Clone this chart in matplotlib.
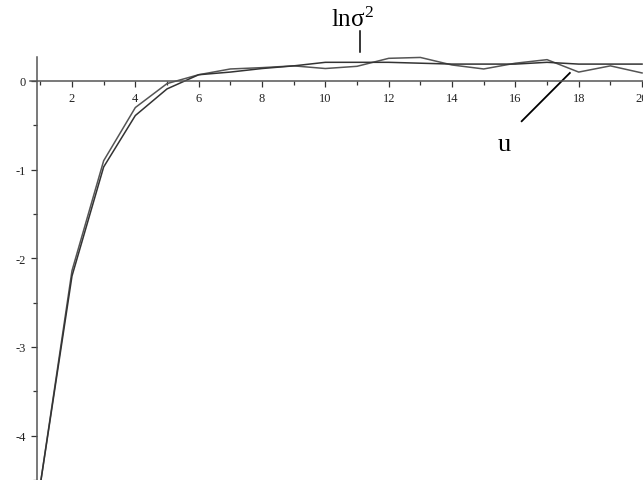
import numpy as np
import matplotlib
matplotlib.use('Agg')
from matplotlib import pyplot as plt

# data
t = [1, 2, 3, 4, 5, 6, 7, 8, 9, 10, 11, 12, 13, 14, 15, 16, 17, 18, 19, 20]
ln_sigma2 = [-4.55, -2.20, -0.97, -0.39, -0.09, 0.07, 0.10, 0.14, 0.17, 0.21,
             0.21, 0.21, 0.20, 0.19, 0.19, 0.19, 0.21, 0.19, 0.19, 0.19]
u = [-4.55, -2.14, -0.90, -0.30, -0.03, 0.07, 0.135, 0.15, 0.17, 0.14,
     0.165, 0.255, 0.265, 0.18, 0.135, 0.20, 0.24, 0.10, 0.17, 0.09]

x_ticks = [2, 4, 6, 8, 10, 12, 14, 16, 18, 20]
y_ticks = [-4, -3, -2, -1, 0]

fig = plt.figure(figsize=(6.43, 4.81), dpi=100)
ax = fig.add_axes([0, 0, 1, 1])
ax.set_xlim(-0.273, 20.03)
ax.set_ylim(-4.496, 0.924)

ax.plot(t, u, color='#555555', lw=1.1)
ax.plot(t, ln_sigma2, color='#333333', lw=1.1)

# maple style axes
axis_col = '#555555'
for s in ['top', 'right']:
    ax.spines[s].set_visible(False)
ax.spines['left'].set_position(('data', 0.895))
ax.spines['bottom'].set_position(('data', 0))
ax.spines['left'].set_bounds(-4.6, 0.27)
ax.spines['bottom'].set_bounds(0.67, 20.03)
ax.spines['left'].set_color(axis_col)
ax.spines['bottom'].set_color(axis_col)
ax.spines['left'].set_linewidth(1.1)
ax.spines['bottom'].set_linewidth(1.1)

ax.set_xticks(x_ticks)
ax.set_xticks(np.arange(1, 20, 2), minor=True)
ax.set_yticks(y_ticks)
ax.set_yticks(np.arange(-4.5, 0, 1.0), minor=True)
ax.tick_params(which='both', direction='out', color='#333333', width=0.9,
               labelcolor='#222222')
ax.tick_params(which='major', length=4, pad=4)
ax.tick_params(which='minor', length=3)
ax.set_xticklabels([str(v) for v in x_ticks], fontfamily='Liberation Serif', fontsize=9)
ax.set_yticklabels([str(v) for v in y_ticks], fontfamily='Liberation Serif', fontsize=9)

# curve labels
ax.text(10.84, 0.70, r'$\mathregular{ln\sigma^2}$', fontfamily='Liberation Serif',
        fontsize=18, ha='center', va='center')
ax.plot([11.09, 11.09], [0.327, 0.563], color='black', lw=1.1)
ax.text(15.66, -0.71, 'u', fontfamily='Liberation Serif', fontsize=19,
        ha='center', va='center')
ax.plot([16.2, 17.72], [-0.454, 0.09], color='black', lw=1.3)

plt.savefig('out.png', dpi=100)
